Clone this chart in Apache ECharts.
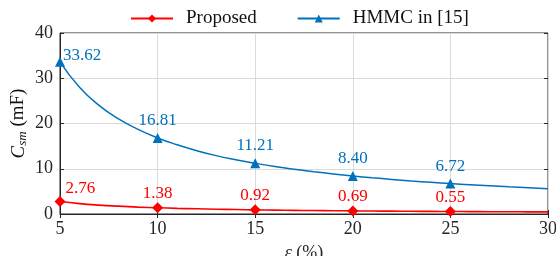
<!DOCTYPE html>
<html>
<head>
<meta charset="utf-8">
<script src="https://cdn.jsdelivr.net/npm/echarts@6/dist/echarts.min.js"></script>
<style>
    html, body { margin: 0; padding: 0; background: #fff; }
    #chart { width: 556px; height: 256px; }
</style>
</head>
<body>
<div id="chart"></div>
<script>
// epsilon (%) sample points
const eps = [5, 6, 7, 8, 9, 10, 11, 12, 13, 14, 15, 16, 17, 18, 19, 20,
    21, 22, 23, 24, 25, 26, 27, 28, 29, 30];
const hmmc = [33.62, 28.0, 24.0, 21.0, 18.7, 16.81, 15.3, 14.0, 12.9, 12.0,
    11.21, 10.5, 9.9, 9.35, 8.85, 8.40, 8.0, 7.65, 7.3, 7.0,
    6.72, 6.47, 6.23, 6.0, 5.8, 5.6];
const proposed = [2.76, 2.3, 1.97, 1.73, 1.53, 1.38, 1.25, 1.15, 1.06, 0.99,
    0.92, 0.86, 0.81, 0.77, 0.73, 0.69, 0.66, 0.63, 0.60, 0.57,
    0.55, 0.53, 0.51, 0.49, 0.48, 0.46];
const markerEps = [5, 10, 15, 20, 25];

const FONT = "'Liberation Serif', 'Times New Roman', serif";
const BLUE = "#0072BD";
const RED = "#FF0000";
const INK = "#262626";

function buildData(values, color, dist, firstOffset) {
    return eps.map((x, i) => {
        const item = { value: [x, values[i]] };
        if (markerEps.includes(x)) {
            item.label = {
                show: true,
                formatter: values[i].toFixed(2),
                color: color,
                fontFamily: FONT,
                fontSize: 17,
                position: "top",
                distance: dist,
            };
            if (x === 5) {
                item.label.position = "right";
                item.label.offset = firstOffset;
            }
        } else {
            item.symbol = "none";
        }
        return item;
    });
}

const chart = echarts.init(document.getElementById("chart"), null, { renderer: "canvas" });

const tickStyle = { show: true, inside: true, length: 4, lineStyle: { color: INK } };

const option = {
    animation: false,
    backgroundColor: "#fff",
    textStyle: { fontFamily: FONT },
    legend: {
        top: 4,
        left: 125,
        itemWidth: 42,
        itemHeight: 10,
        itemGap: 40,
        textStyle: { fontFamily: FONT, fontSize: 19, color: "#111", padding: [0, 0, 0, 8] },
        data: ["Proposed", "HMMC in [15]"],
    },
    grid: {
        left: 60, right: 8, top: 33, bottom: 42,
        containLabel: false,
        outerBoundsMode: "none",
        show: true, borderColor: INK, borderWidth: 1,
    },
    xAxis: [{
        type: "value",
        min: 5, max: 30, interval: 5,
        axisLine: { show: true, lineStyle: { color: INK } },
        axisTick: tickStyle,
        axisLabel: { color: INK, fontFamily: FONT, fontSize: 18, margin: 6 },
        splitLine: { show: true, lineStyle: { color: "#dadada" } },
        name: "{i|ε} (%)",
        nameLocation: "middle",
        nameGap: 30,
        nameMoveOverlap: false,
        nameTextStyle: {
            color: INK, fontFamily: FONT, fontSize: 18,
            rich: { i: { fontStyle: "italic", fontFamily: FONT, fontSize: 18, color: INK } },
        },
    }, {
        type: "value",
        position: "top",
        min: 5, max: 30, interval: 5,
        axisLine: { show: false },
        axisTick: tickStyle,
        axisLabel: { show: false },
        splitLine: { show: false },
    }],
    yAxis: [{
        type: "value",
        min: 0, max: 40, interval: 10,
        axisLine: { show: true, lineStyle: { color: INK } },
        axisTick: tickStyle,
        axisLabel: { color: INK, fontFamily: FONT, fontSize: 18, margin: 7 },
        splitLine: { show: true, lineStyle: { color: "#dadada" } },
        name: "{i|C}{s|sm} (mF)",
        nameLocation: "middle",
        nameRotate: 90,
        nameGap: 31,
        nameMoveOverlap: false,
        nameTextStyle: {
            color: "#111", fontFamily: FONT, fontSize: 19,
            rich: {
                i: { fontStyle: "italic", fontFamily: FONT, fontSize: 19, color: "#111" },
                s: { fontStyle: "italic", fontFamily: FONT, fontSize: 13, color: "#111", padding: [8, 0, 0, 0] },
            },
        },
    }, {
        type: "value",
        position: "right",
        min: 0, max: 40, interval: 10,
        axisLine: { show: false },
        axisTick: tickStyle,
        axisLabel: { show: false },
        splitLine: { show: false },
    }],
    series: [
        {
            name: "Proposed",
            type: "line",
            smooth: true,
            symbol: "diamond",
            symbolSize: 11,
            showAllSymbol: true,
            color: RED,
            lineStyle: { width: 1.6, color: RED },
            itemStyle: { color: RED },
            data: buildData(proposed, RED, 0, [0, -13]),
            z: 3,
        },
        {
            name: "HMMC in [15]",
            type: "line",
            smooth: true,
            symbol: "triangle",
            symbolSize: 10,
            showAllSymbol: true,
            color: BLUE,
            lineStyle: { width: 1.5, color: BLUE },
            itemStyle: { color: BLUE },
            data: buildData(hmmc, BLUE, 4, [-6, -6]),
            z: 2,
        },
    ],
};

chart.setOption(option);
</script>
</body>
</html>
